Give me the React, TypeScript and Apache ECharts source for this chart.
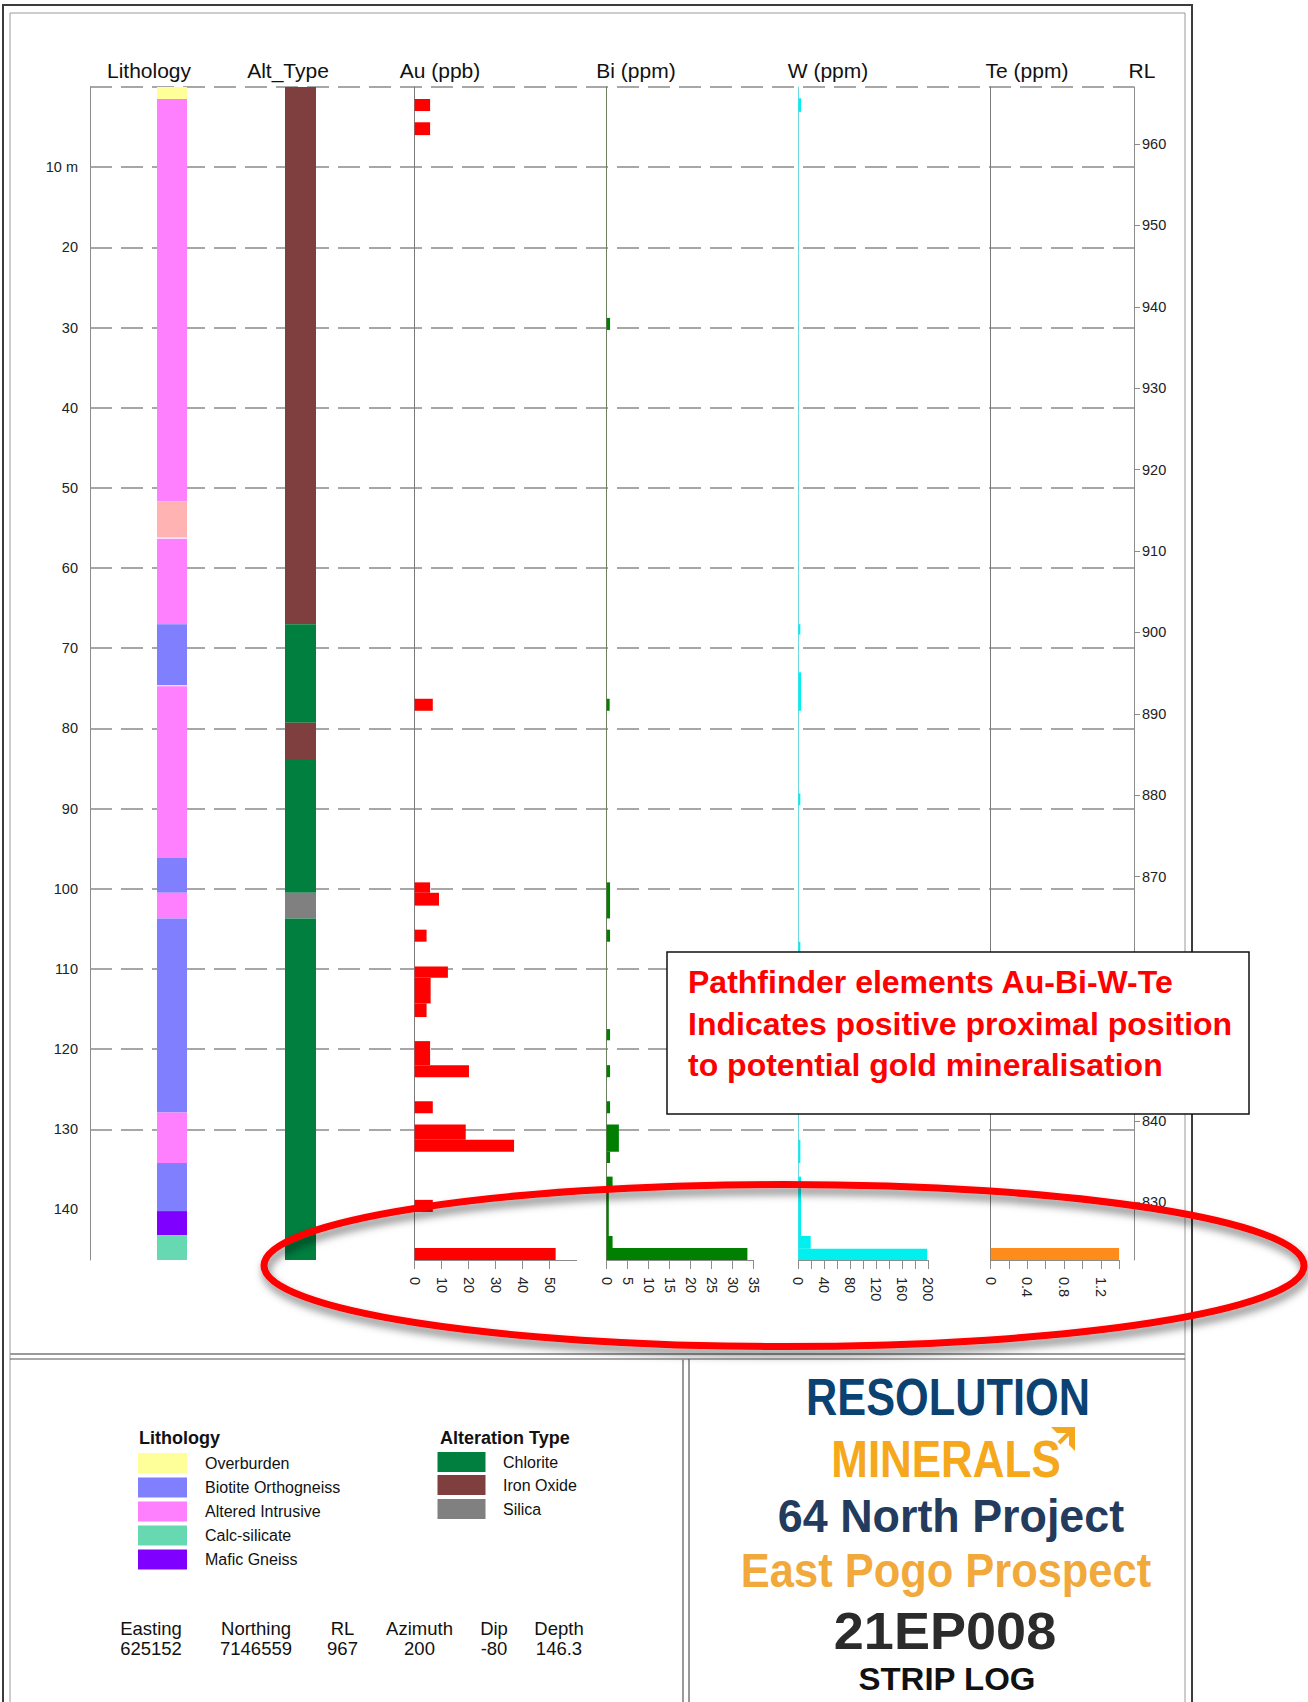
import React, { useEffect, useRef } from "react";
import * as echarts from "echarts";

const FONT = "'Liberation Sans', Arial, Helvetica, sans-serif";

// ---------------- Collar / hole ----------------
const COLLAR_HEADERS = ["Easting", "Northing", "RL", "Azimuth", "Dip", "Depth"];
const COLLAR_VALUES = ["625152", "7146559", "967", "200", "-80", "146.3"];
const COLLAR_RL = 967;
const HOLE_DIP = -80;
const HOLE_DEPTH = 146.3;

// ---------------- Axis ticks ----------------
const DEPTH_GRID = [0, 10, 20, 30, 40, 50, 60, 70, 80, 90, 100, 110, 120, 130, 140];
const DEPTH_LABELS = [10, 20, 30, 40, 50, 60, 70, 80, 90, 100, 110, 120, 130, 140];
const RL_TICKS = [960, 950, 940, 930, 920, 910, 900, 890, 880, 870, 860, 850, 840, 830];
// 860 and 850 lie under the annotation box in the reference
const RL_LABELS = [960, 950, 940, 930, 920, 910, 900, 890, 880, 870, 840, 830];
const AU_RANGE = [0, 60];
const AU_TICKS = [0, 10, 20, 30, 40, 50];
const BI_RANGE = [0, 35];
const BI_TICKS = [0, 5, 10, 15, 20, 25, 30, 35];
const W_RANGE = [0, 200];
const W_TICKS = [0, 20, 40, 60, 80, 100, 120, 140, 160, 180, 200];
const W_LABELS = [0, 40, 80, 120, 160, 200];
const TE_RANGE = [0, 1.4];
const TE_TICKS = [0, 0.2, 0.4, 0.6, 0.8, 1.0, 1.2, 1.4];
const TE_LABELS = [0, 0.4, 0.8, 1.2];

const COLUMN_TITLES = ["Lithology", "Alt_Type", "Au (ppb)", "Bi (ppm)", "W (ppm)", "Te (ppm)", "RL"];

// ---------------- Lithology (from, to, code) ----------------
const LITH_NAMES = ["Overburden", "Biotite Orthogneiss", "Altered Intrusive", "Calc-silicate", "Mafic Gneiss"];
const LITH_COLORS = ["#ffff99", "#8080ff", "#ff80ff", "#66d9b3", "#8000ff", "#ffb3b3"];
const lithology = [
  [0, 1.5, 0],
  [1.5, 51.7, 2],
  [51.7, 56.2, 5],
  [56.35, 67.0, 2],
  [67.0, 74.6, 1],
  [74.75, 96.1, 2],
  [96.1, 100.5, 1],
  [100.5, 103.7, 2],
  [103.7, 127.9, 1],
  [127.9, 134.2, 2],
  [134.2, 140.2, 1],
  [140.2, 143.2, 4],
  [143.2, 146.3, 3],
];

// ---------------- Alteration (from, to, code) ----------------
const ALT_NAMES = ["Chlorite", "Iron Oxide", "Silica"];
const ALT_COLORS = ["#007f3f", "#7f3f3f", "#808080"];
const alteration = [
  [0, 67.0, 1],
  [67.0, 79.3, 0],
  [79.3, 83.8, 1],
  [83.8, 100.5, 0],
  [100.5, 103.7, 2],
  [103.7, 146.3, 0],
];

// ---------------- Assays (from, to, value) ----------------
const auPpb = [
  [1.5, 3.0, 5.7],
  [4.4, 6.0, 5.7],
  [76.3, 77.8, 6.7],
  [99.2, 100.5, 5.7],
  [100.5, 102.1, 9.0],
  [105.1, 106.6, 4.4],
  [109.7, 111.1, 12.3],
  [111.1, 114.3, 5.9],
  [114.3, 116.0, 4.4],
  [119.0, 122.0, 5.7],
  [122.0, 123.5, 20.1],
  [126.5, 128.0, 6.7],
  [129.4, 131.3, 18.9],
  [131.3, 132.8, 36.8],
  [138.8, 140.3, 6.7],
  [144.8, 146.3, 52.2],
];
const biPpm = [
  [28.8, 30.3, 0.8],
  [76.3, 77.8, 0.7],
  [99.2, 103.7, 0.8],
  [105.1, 106.6, 0.8],
  [117.5, 118.9, 0.8],
  [122.0, 123.5, 0.8],
  [126.5, 128.0, 0.8],
  [129.4, 132.8, 2.9],
  [132.8, 134.2, 0.8],
  [135.9, 137.3, 1.4],
  [137.3, 143.3, 0.5],
  [143.3, 144.8, 1.4],
  [144.8, 146.3, 33.5],
];
const wPpm = [
  [1.4, 3.1, 4],
  [67.0, 68.3, 3],
  [73.0, 77.8, 4],
  [88.1, 89.6, 3],
  [106.6, 109.2, 3],
  [131.3, 134.2, 3],
  [135.9, 143.3, 4],
  [143.3, 144.9, 19],
  [144.9, 146.3, 199],
];
const tePpm = [[144.8, 146.3, 1.4]];

// ---------------- Layout (pixels) ----------------
const PLOT_TOP = 87;
const PLOT_HEIGHT = 1173;
const GRID_BOXES = [
  [90, 1044], // main: depth & RL axes, grid lines
  [157, 30], // lithology
  [285, 31], // alteration
  [414.7, 162], // Au
  [606.7, 147], // Bi
  [798.4, 129.4], // W
  [990.7, 128.4], // Te
];
const TITLE_X = [149, 288, 440, 636, 828, 1027, 1142];

function bandItem(colors: string[]) {
  return (params: any, api: any) => {
    const a = api.coord([0, api.value(0)]);
    const b = api.coord([1, api.value(1)]);
    return {
      type: "rect",
      shape: { x: a[0], y: a[1], width: b[0] - a[0], height: b[1] - a[1] },
      style: { fill: colors[api.value(2)] },
    };
  };
}

function barItem(color: string) {
  return (params: any, api: any) => {
    const a = api.coord([0, api.value(0)]);
    const b = api.coord([api.value(2), api.value(1)]);
    return {
      type: "rect",
      shape: { x: a[0], y: a[1], width: b[0] - a[0], height: b[1] - a[1] },
      style: { fill: color },
    };
  };
}

function elemX(gi: number, range: number[], interval: number, ticks: number[], labels: number[]) {
  return {
    gridIndex: gi,
    type: "value",
    position: "bottom",
    min: range[0],
    max: range[1],
    interval,
    axisLine: { show: true, onZero: false, lineStyle: { color: "#8c8c8c", width: 1 } },
    axisTick: { show: true, length: 9, customValues: ticks, lineStyle: { color: "#8c8c8c", width: 1 } },
    axisLabel: {
      show: true,
      rotate: -90,
      margin: 17,
      fontSize: 14.5,
      color: "#222",
      fontFamily: FONT,
      customValues: labels,
    },
    splitLine: { show: false },
  };
}

function hiddenX(gi: number) {
  return { gridIndex: gi, type: "value", min: 0, max: 1, show: false };
}

function colY(gi: number, color: string, showLine: boolean) {
  return {
    gridIndex: gi,
    type: "value",
    inverse: true,
    min: 0,
    max: HOLE_DEPTH,
    position: "left",
    axisLine: { show: showLine, onZero: false, lineStyle: { color, width: 1 } },
    axisTick: { show: false },
    axisLabel: { show: false },
    splitLine: { show: false },
  };
}

function txt(x: number, y: number, text: string, size: number, o: any = {}) {
  return {
    type: "text",
    x,
    y,
    z: 100,
    style: {
      text,
      fontSize: size,
      fontFamily: FONT,
      fontWeight: o.weight || "normal",
      fill: o.fill || "#111",
      align: o.align || "center",
      verticalAlign: "middle",
    },
  };
}

function scaledTxt(x: number, y: number, text: string, size: number, sx: number, fill: string) {
  return {
    type: "group",
    x,
    y,
    scaleX: sx,
    z: 100,
    children: [
      {
        type: "text",
        z: 100,
        style: {
          text,
          fontSize: size,
          fontFamily: FONT,
          fontWeight: "bold",
          fill,
          align: "center",
          verticalAlign: "middle",
        },
      },
    ],
  };
}

function line(x1: number, y1: number, x2: number, y2: number, stroke: string, lw: number) {
  return { type: "line", z: 90, shape: { x1, y1, x2, y2 }, style: { stroke, lineWidth: lw } };
}

function buildGraphic() {
  const g: any[] = [];
  // frames
  g.push({ type: "rect", z: 90, shape: { x: 3, y: 5, width: 1189, height: 1710 }, style: { fill: "none", stroke: "#3c3c3c", lineWidth: 2 } });
  g.push({ type: "rect", z: 90, shape: { x: 10, y: 13, width: 1175, height: 1700 }, style: { fill: "none", stroke: "#9a9a9a", lineWidth: 1 } });
  g.push(line(10, 1354, 1185, 1354, "#9a9a9a", 2));
  g.push(line(10, 1359, 1185, 1359, "#555", 1.2));
  g.push(line(683, 1359, 683, 1710, "#9a9a9a", 2));
  g.push(line(689, 1359, 689, 1710, "#555", 1.2));

  // column titles
  COLUMN_TITLES.forEach((t, i) => g.push(txt(TITLE_X[i], 70, t, 21)));

  // legend: lithology
  g.push(txt(139, 1438, "Lithology", 18, { weight: "bold", align: "left" }));
  const lithRows = [1463, 1487.5, 1511.5, 1535.5, 1559.5];
  LITH_NAMES.forEach((n, i) => {
    g.push({ type: "rect", z: 100, shape: { x: 138, y: lithRows[i] - 10, width: 49, height: 20 }, style: { fill: LITH_COLORS[i] } });
    g.push(txt(205, lithRows[i], n, 16, { align: "left" }));
  });
  // legend: alteration
  g.push(txt(440, 1438, "Alteration Type", 18, { weight: "bold", align: "left" }));
  const altRows = [1462, 1485, 1509];
  ALT_NAMES.forEach((n, i) => {
    g.push({ type: "rect", z: 100, shape: { x: 437.5, y: altRows[i] - 10, width: 48, height: 20 }, style: { fill: ALT_COLORS[i] } });
    g.push(txt(503, altRows[i], n, 16, { align: "left" }));
  });
  // collar info
  const collarX = [151, 256, 342.5, 419.5, 494, 559];
  COLLAR_HEADERS.forEach((h, i) => {
    g.push(txt(collarX[i], 1628, h, 18.5));
    g.push(txt(collarX[i], 1648, COLLAR_VALUES[i], 18.5));
  });

  // title block
  g.push(scaledTxt(948, 1397, "RESOLUTION", 52, 0.833, "#0b4272"));
  g.push(scaledTxt(946, 1459, "MINERALS", 52, 0.845, "#f5a81c"));
  g.push({
    type: "polygon",
    z: 101,
    shape: { points: [[1051, 1427], [1075, 1427], [1075, 1451], [1069, 1445], [1069, 1433], [1057, 1433]] },
    style: { fill: "#f5a81c" },
  });
  g.push({ type: "line", z: 101, shape: { x1: 1071, y1: 1431, x2: 1059, y2: 1443 }, style: { stroke: "#f5a81c", lineWidth: 4 } });
  g.push(scaledTxt(951, 1516, "64 North Project", 46, 0.975, "#233b5d"));
  g.push(scaledTxt(946, 1570.5, "East Pogo Prospect", 48, 0.905, "#f2a93b"));
  g.push(scaledTxt(945, 1631, "21EP008", 51, 1.06, "#2b2b2b"));
  g.push(scaledTxt(947, 1679, "STRIP LOG", 32, 1.03, "#111"));

  // annotation box
  g.push({
    type: "rect",
    z: 110,
    shape: { x: 667, y: 952, width: 582, height: 162 },
    style: { fill: "#ffffff", stroke: "#111", lineWidth: 1.5 },
  });
  const note = [
    "Pathfinder elements Au-Bi-W-Te",
    "Indicates positive proximal position",
    "to potential gold mineralisation",
  ];
  const noteY = [982, 1023.5, 1064.5];
  note.forEach((t, i) => {
    const el: any = txt(688, noteY[i], t, 32, { weight: "bold", fill: "#ff0000", align: "left" });
    el.z = 111;
    g.push(el);
  });

  // red ellipse highlight
  g.push({
    type: "ellipse",
    z: 120,
    shape: { cx: 784, cy: 1265.5, rx: 520, ry: 81 },
    style: {
      fill: "none",
      stroke: "#ff0000",
      lineWidth: 7,
      shadowBlur: 8,
      shadowColor: "rgba(0,0,0,0.5)",
      shadowOffsetX: 2,
      shadowOffsetY: 6,
    },
  });
  return g;
}

export default function App() {
  const ref = useRef<HTMLDivElement>(null);

  useEffect(() => {
    if (!ref.current) return;
    const chart = echarts.init(ref.current, null, { renderer: "svg" });

    const grid = GRID_BOXES.map(([left, width]) => ({
      left,
      width,
      top: PLOT_TOP,
      height: PLOT_HEIGHT,
      containLabel: false,
      outerBoundsMode: "none",
    }));

    const rlMin = COLLAR_RL + HOLE_DEPTH * Math.sin((HOLE_DIP * Math.PI) / 180);

    const option: any = {
      animation: false,
      backgroundColor: "#ffffff",
      textStyle: { fontFamily: FONT },
      grid,
      xAxis: [
        hiddenX(0),
        hiddenX(1),
        hiddenX(2),
        elemX(3, AU_RANGE, 10, AU_TICKS, AU_TICKS),
        elemX(4, BI_RANGE, 5, BI_TICKS, BI_TICKS),
        elemX(5, W_RANGE, 20, W_TICKS, W_LABELS),
        elemX(6, TE_RANGE, 0.2, TE_TICKS, TE_LABELS),
      ],
      yAxis: [
        {
          gridIndex: 0,
          type: "value",
          inverse: true,
          min: 0,
          max: HOLE_DEPTH,
          position: "left",
          axisLine: { show: true, onZero: false, lineStyle: { color: "#8c8c8c", width: 1 } },
          axisTick: { show: false, customValues: DEPTH_GRID },
          axisLabel: {
            show: true,
            customValues: DEPTH_LABELS,
            formatter: (v: number) => (v === 10 ? "10 m" : String(v)),
            fontSize: 14.5,
            color: "#222",
            margin: 12,
            fontFamily: FONT,
          },
          splitLine: {
            show: true,
            showMaxLine: false,
            lineStyle: { color: "#8a8a8a", width: 1.5, type: [22, 9] },
          },
        },
        {
          gridIndex: 0,
          type: "value",
          min: rlMin,
          max: COLLAR_RL,
          position: "right",
          axisLine: { show: true, onZero: false, lineStyle: { color: "#8c8c8c", width: 1 } },
          axisTick: { show: true, length: 6, customValues: RL_TICKS, lineStyle: { color: "#8c8c8c" } },
          axisLabel: { show: true, customValues: RL_LABELS, fontSize: 14.5, color: "#222", margin: 8, fontFamily: FONT },
          splitLine: { show: false },
        },
        colY(1, "#888", false),
        colY(2, "#888", false),
        colY(3, "#7a7a7a", true),
        colY(4, "#6f8060", true),
        colY(5, "#6fd8e0", true),
        colY(6, "#7a7a7a", true),
      ],
      series: [
        { type: "custom", xAxisIndex: 1, yAxisIndex: 2, data: lithology, renderItem: bandItem(LITH_COLORS) },
        { type: "custom", xAxisIndex: 2, yAxisIndex: 3, data: alteration, renderItem: bandItem(ALT_COLORS) },
        { type: "custom", xAxisIndex: 3, yAxisIndex: 4, data: auPpb, encode: { x: 2, y: [0, 1] }, renderItem: barItem("#ff0000") },
        { type: "custom", xAxisIndex: 4, yAxisIndex: 5, data: biPpm, encode: { x: 2, y: [0, 1] }, renderItem: barItem("#007f00") },
        { type: "custom", xAxisIndex: 5, yAxisIndex: 6, data: wPpm, encode: { x: 2, y: [0, 1] }, renderItem: barItem("#00f0f0") },
        { type: "custom", xAxisIndex: 6, yAxisIndex: 7, data: tePpm, encode: { x: 2, y: [0, 1] }, renderItem: barItem("#ff8c1a") },
      ],
      graphic: buildGraphic(),
    };

    chart.setOption(option);
    return () => chart.dispose();
  }, []);

  return (
    <div
      ref={ref}
      style={{ position: "absolute", left: 0, top: 0, width: 1308, height: 1702, background: "#fff" }}
    />
  );
}
